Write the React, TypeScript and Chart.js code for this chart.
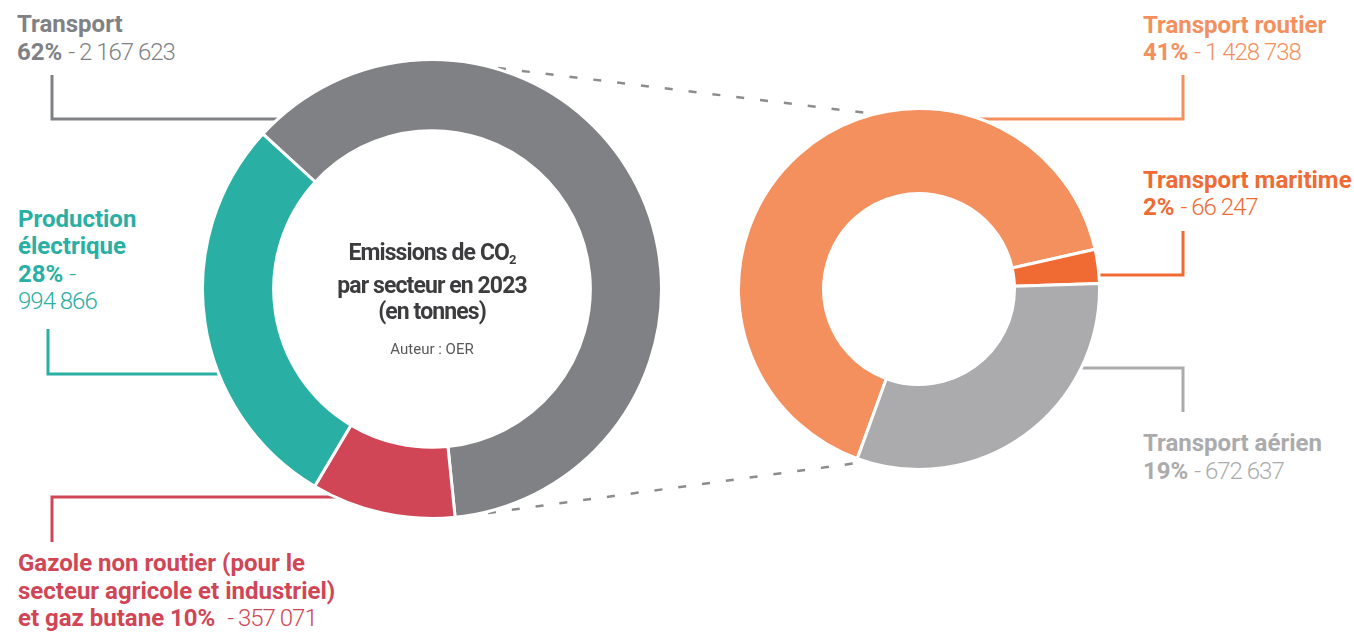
import React, { useEffect, useRef } from "react";
import { Chart, registerables } from "chart.js";

Chart.register(...registerables);

// ---- Data ----
const sectorLabels = [
  "Transport",
  "Gazole non routier (pour le secteur agricole et industriel) et gaz butane",
  "Production électrique",
];
const sectorValues = [2167623, 357071, 994866];
const sectorColors = ["#808185", "#D04656", "#29AFA3"];
const sectorPercents = ["62%", "10%", "28%"];

const transportLabels = ["Transport routier", "Transport maritime", "Transport aérien"];
const transportValues = [1428738, 66247, 672637];
const transportColors = ["#F4905E", "#F06B33", "#ABABAD"];
const transportPercents = ["41%", "2%", "19%"];

const FONT = "Roboto, 'Noto Sans', sans-serif";

const fmt = (n: number) => String(n).replace(/\B(?=(\d{3})+(?!\d))/g, " ");

type DProps = {
  labels: string[];
  values: number[];
  colors: string[];
  rotation: number;
  cutout: string;
  size: number;
  left: number;
  top: number;
};

function Doughnut({ labels, values, colors, rotation, cutout, size, left, top }: DProps) {
  const ref = useRef<HTMLCanvasElement>(null);
  useEffect(() => {
    const chart = new Chart(ref.current as HTMLCanvasElement, {
      type: "doughnut",
      data: {
        labels,
        datasets: [
          {
            data: values,
            backgroundColor: colors,
            borderColor: "#ffffff",
            borderWidth: 3,
            hoverOffset: 0,
          },
        ],
      },
      options: {
        responsive: false,
        maintainAspectRatio: false,
        animation: false,
        rotation,
        cutout,
        events: [],
        layout: { padding: 0 },
        plugins: { legend: { display: false }, tooltip: { enabled: false } },
      },
    });
    return () => chart.destroy();
  }, []);
  return (
    <canvas
      ref={ref}
      width={size}
      height={size}
      style={{ position: "absolute", left, top, width: size, height: size, zIndex: 1 }}
    />
  );
}

const labelBase: React.CSSProperties = {
  position: "absolute",
  fontFamily: FONT,
  fontSize: 24,
  lineHeight: "27.5px",
  whiteSpace: "nowrap",
  letterSpacing: "0px",
};

function Bold({ children }: { children: React.ReactNode }) {
  return <span style={{ fontWeight: 700 }}>{children}</span>;
}
function Light({ children }: { children: React.ReactNode }) {
  return <span style={{ fontWeight: 300, letterSpacing: "-1px" }}>{children}</span>;
}

export default function App() {
  return (
    <div
      style={{
        position: "absolute",
        left: 0,
        top: 0,
        width: 1354,
        height: 632,
        background: "#ffffff",
        overflow: "hidden",
      }}
    >
      <svg
        width={1354}
        height={632}
        style={{ position: "absolute", left: 0, top: 0, zIndex: 0 }}
      >
        {/* leader lines */}
        <polyline points="52,75 52,119 300,119" fill="none" stroke={sectorColors[0]} strokeWidth={3} />
        <polyline points="48,329 48,374 250,374" fill="none" stroke={sectorColors[2]} strokeWidth={3} />
        <polyline points="52,542 52,497 378,497" fill="none" stroke={sectorColors[1]} strokeWidth={3} />
        <polyline points="1183,75 1183,119 940,119" fill="none" stroke={transportColors[0]} strokeWidth={3} />
        <polyline points="1183,231 1183,275 1090,275" fill="none" stroke={transportColors[1]} strokeWidth={3} />
        <polyline points="1183,412 1183,368 1075,368" fill="none" stroke={transportColors[2]} strokeWidth={3} />
        {/* connector dashed lines */}
        <line x1={498} y1={68} x2={867} y2={113} stroke="#8C8C8E" strokeWidth={2.5} strokeDasharray="8 16" />
        <line x1={488} y1={513} x2={857} y2={463} stroke="#8C8C8E" strokeWidth={2.5} strokeDasharray="8 16" />
      </svg>

      <Doughnut
        labels={sectorLabels}
        values={sectorValues}
        colors={sectorColors}
        rotation={-47.5}
        cutout="69%"
        size={462}
        left={201}
        top={58}
      />
      <Doughnut
        labels={transportLabels}
        values={transportValues}
        colors={transportColors}
        rotation={-160}
        cutout="52.9%"
        size={364}
        left={737}
        top={107}
      />

      {/* center text */}
      <div
        style={{
          position: "absolute",
          left: 282,
          top: 240,
          width: 300,
          textAlign: "center",
          fontFamily: FONT,
          fontWeight: 700,
          fontSize: 23,
          lineHeight: "26px",
          letterSpacing: "-0.9px",
          color: "#3C3C3E",
          zIndex: 2,
        }}
      >
        Emissions de CO
        <span style={{ fontSize: 13, verticalAlign: "-4px" }}>2</span>
        <br />
        par secteur en 2023
        <br />
        (en tonnes)
      </div>
      <div
        style={{
          position: "absolute",
          left: 282,
          top: 340,
          width: 300,
          textAlign: "center",
          fontFamily: FONT,
          fontWeight: 400,
          fontSize: 15,
          lineHeight: "18px",
          color: "#58585A",
          zIndex: 2,
        }}
      >
        Auteur : OER
      </div>

      {/* labels */}
      <div style={{ ...labelBase, left: 17, top: 11, color: sectorColors[0] }}>
        <Bold>{sectorLabels[0]}</Bold>
        <br />
        <Bold>{sectorPercents[0]}</Bold> <Light>- {fmt(sectorValues[0])}</Light>
      </div>
      <div style={{ ...labelBase, left: 18, top: 205.5, color: sectorColors[2] }}>
        <Bold>Production</Bold>
        <br />
        <Bold>électrique</Bold>
        <br />
        <Bold>{sectorPercents[2]}</Bold> <Light>-</Light>
        <br />
        <Light>{fmt(sectorValues[2])}</Light>
      </div>
      <div style={{ ...labelBase, left: 18, top: 550, color: sectorColors[1] }}>
        <Bold>Gazole non routier (pour le</Bold>
        <br />
        <Bold>secteur agricole et industriel)</Bold>
        <br />
        <Bold>et gaz butane {sectorPercents[1]}</Bold>
        {"\u00a0 "}
        <Light>- {fmt(sectorValues[1])}</Light>
      </div>

      <div style={{ ...labelBase, left: 1143, top: 11.5, color: transportColors[0] }}>
        <Bold>{transportLabels[0]}</Bold>
        <br />
        <Bold>{transportPercents[0]}</Bold> <Light>- {fmt(transportValues[0])}</Light>
      </div>
      <div style={{ ...labelBase, left: 1143, top: 166.5, color: transportColors[1] }}>
        <Bold>{transportLabels[1]}</Bold>
        <br />
        <Bold>{transportPercents[1]}</Bold> <Light>- {fmt(transportValues[1])}</Light>
      </div>
      <div style={{ ...labelBase, left: 1143, top: 430, color: transportColors[2] }}>
        <Bold>{transportLabels[2]}</Bold>
        <br />
        <Bold>{transportPercents[2]}</Bold> <Light>- {fmt(transportValues[2])}</Light>
      </div>
    </div>
  );
}
